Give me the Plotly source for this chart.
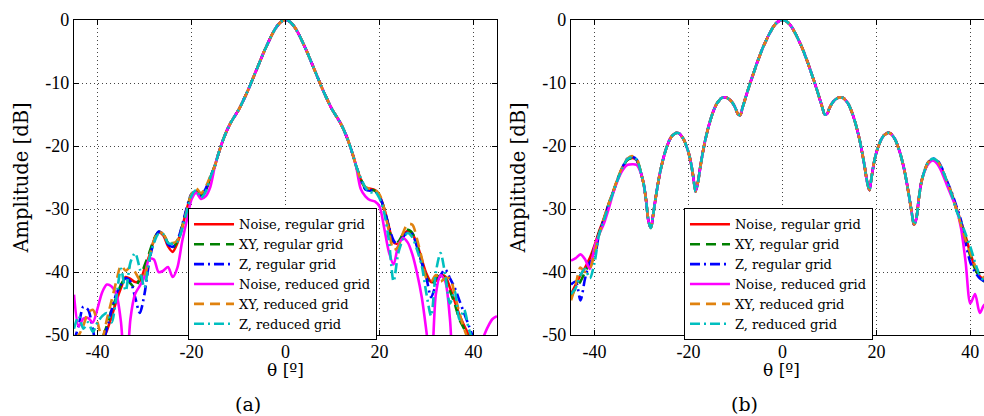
import numpy as np
import plotly.graph_objects as go

# ---------------- angle grids (degrees) ----------------
xa_left = list(range(-45, -15))            # -45 .. -16, 1 deg
xa_core = [i * 0.5 for i in range(-30, 31)]  # -15 .. 15, 0.5 deg
xa_right = list(range(16, 46))             # 16 .. 45
xb_left = list(range(-45, -30))            # -45 .. -31
xb_core = [i * 0.5 for i in range(-60, 61)]  # -30 .. 30
xb_right = list(range(31, 46))             # 31 .. 45

series_names = ["Noise, regular grid", "XY, regular grid", "Z, regular grid",
                "Noise, reduced grid", "XY, reduced grid", "Z, reduced grid"]

# ---------------- panel (a) ----------------
core_a = [-23.1, -21.8, -20.6, -19.5, -18.5, -17.6, -16.8, -16.1, -15.5, -14.9,
          -14.3, -13.6, -12.8, -12.0, -11.2, -10.3, -9.4, -8.5, -7.6, -6.7,
          -5.8, -4.9, -4.1, -3.3, -2.5, -1.8, -1.2, -0.7, -0.3, -0.08,
          0.0,
          -0.08, -0.3, -0.7, -1.2, -1.8, -2.5, -3.3, -4.1, -4.9, -5.8,
          -6.7, -7.6, -8.5, -9.4, -10.3, -11.2, -12.0, -12.8, -13.6, -14.3,
          -14.9, -15.5, -16.1, -16.8, -17.6, -18.5, -19.5, -20.6, -21.8, -23.1]

a_left = {
    "Noise, regular grid": [-53, -54, -53, -54, -53, -52.5, -51.0, -49.3, -47.1, -44.6,
                            -42.5, -40.8, -41.1, -41.6, -41.4, -39.5, -37.5, -35.0, -33.7, -34.2,
                            -35.9, -36.8, -35.4, -33.0, -30.0, -27.8, -27.2, -27.8, -27.0, -25.0],
    "XY, regular grid": [-54, -53, -52, -53, -52, -51.5, -50.5, -48.5, -46.0, -44.0,
                         -42.0, -41.0, -41.8, -42.5, -41.0, -39.0, -37.0, -34.8, -33.6, -34.0,
                         -35.4, -36.2, -35.0, -32.8, -30.0, -27.7, -27.0, -28.0, -27.1, -25.0],
    "Z, regular grid": [-51.0, -48.5, -45.5, -46.0, -49.0, -52.5, -51.5, -49.0, -46.0, -43.5,
                        -42.0, -41.0, -41.5, -44.0, -46.5, -43.5, -38.4, -35.2, -33.6, -34.0,
                        -35.6, -36.0, -35.0, -32.6, -29.8, -27.6, -27.3, -27.9, -26.8, -25.0],
    "Noise, reduced grid": [-43.6, -48.6, -47.4, -47.3, -48.0, -45.8, -43.2, -42.0, -42.3, -43.5,
                            -48.0, -58.0, -47.5, -43.5, -42.2, -40.8, -37.9, -38.0, -40.0, -39.8,
                            -39.2, -40.8, -39.3, -35.2, -31.8, -28.5, -27.4, -28.4, -28.0, -26.5],
    "XY, reduced grid": [-50.5, -50.0, -48.5, -46.5, -46.0, -48.0, -50.5, -47.5, -44.5, -41.5,
                         -39.0, -39.8, -39.2, -40.0, -41.2, -40.5, -37.8, -35.0, -33.6, -34.0,
                         -35.2, -35.4, -35.0, -33.0, -30.2, -27.6, -26.7, -27.5, -26.5, -24.8],
    "Z, reduced grid": [-49.0, -47.0, -49.0, -48.0, -49.5, -48.0, -47.0, -46.5, -48.0, -44.0,
                        -39.5, -43.0, -38.5, -37.0, -39.5, -42.5, -38.0, -35.4, -33.9, -34.0,
                        -35.4, -35.5, -35.2, -33.2, -30.4, -27.9, -27.0, -28.2, -27.3, -25.0],
}
a_right = {
    "Noise, regular grid": [-25.3, -26.6, -26.8, -27.0, -27.9, -29.9, -32.8, -35.3, -35.5, -34.2,
                            -33.5, -34.0, -35.6, -38.0, -40.3, -41.6, -41.4, -40.6, -40.7, -42.5,
                            -44.6, -46.8, -48.5, -50.0, -51.5, -52.5, -53, -53.5, -54, -54],
    "XY, regular grid": [-25.2, -26.7, -26.9, -27.1, -28.0, -30.0, -33.0, -35.5, -35.2, -34.0,
                         -33.3, -33.8, -35.8, -38.5, -40.8, -42.0, -41.0, -40.2, -41.2, -43.0,
                         -45.0, -47.5, -49.0, -50.5, -52, -53, -53, -54, -54, -54],
    "Z, regular grid": [-25.4, -26.9, -27.1, -27.0, -28.0, -30.0, -32.8, -35.0, -35.8, -34.5,
                        -33.7, -34.0, -36.0, -38.5, -41.0, -44.0, -42.0, -40.5, -39.6, -41.0,
                        -42.5, -44.5, -46.5, -48.5, -50.5, -52, -53, -53, -54, -54],
    "Noise, reduced grid": [-26.8, -28.0, -28.6, -28.8, -29.6, -33.0, -36.8, -38.8, -35.8, -34.6,
                            -35.3, -37.2, -40.2, -44.0, -49.5, -56.0, -43.5, -40.5, -41.5, -47.5,
                            -57, -58, -58, -56, -54, -52, -50.5, -48.8, -47.5, -47.0],
    "XY, reduced grid": [-25.3, -26.5, -26.8, -26.9, -27.7, -30.0, -33.5, -36.5, -36.0, -33.8,
                         -32.4, -32.5, -34.8, -37.8, -41.0, -41.5, -40.5, -41.5, -41.0, -41.0,
                         -43.5, -46.5, -49.0, -51.0, -53, -53, -54, -54, -54, -54],
    "Z, reduced grid": [-25.0, -26.6, -27.4, -27.2, -28.3, -30.6, -35.0, -41.5, -37.0, -34.8,
                        -33.8, -34.5, -36.5, -39.0, -43.5, -47.0, -40.0, -37.0, -40.5, -45.0,
                        -43.0, -47.5, -46.0, -49.0, -51.0, -52, -53, -53, -54, -54],
}

# ---------------- panel (b) ----------------
core_b = [-24.6, -26.2, -28.8, -32.0, -33.0, -30.8, -28.3, -26.0, -24.0, -22.4,
          -21.0, -19.9, -19.0, -18.4, -18.1, -17.9, -18.0, -18.4, -19.0, -19.9,
          -21.0, -22.6, -24.8, -27.2, -25.8, -23.4, -21.2, -19.3, -17.7, -16.3,
          -15.1, -14.1, -13.3, -12.8, -12.4, -12.3, -12.3, -12.5, -12.8, -13.3,
          -14.0, -14.9, -15.1, -13.9, -12.7, -11.5, -10.3, -9.2, -8.1, -7.0,
          -6.0, -5.0, -4.1, -3.3, -2.5, -1.8, -1.15, -0.65, -0.3, -0.07,
          0.0,
          -0.07, -0.3, -0.65, -1.15, -1.8, -2.5, -3.3, -4.1, -5.0, -6.0,
          -7.0, -8.1, -9.2, -10.3, -11.5, -12.7, -13.9, -15.0, -14.9, -14.0,
          -13.3, -12.8, -12.5, -12.3, -12.3, -12.4, -12.8, -13.3, -14.1, -15.1,
          -16.3, -17.7, -19.3, -21.2, -23.3, -25.6, -27.0, -24.8, -22.6, -21.0,
          -19.9, -19.0, -18.4, -18.1, -17.9, -18.0, -18.4, -19.0, -19.9, -21.0,
          -22.4, -24.0, -26.0, -28.2, -30.5, -32.5, -31.5, -28.5, -26.0, -24.5]

b_left = {
    "Noise, regular grid": [-43.5, -42.0, -40.5, -39.3, -37.8, -35.8, -33.5, -31.5, -29.2, -27.2,
                            -25.1, -23.4, -22.2, -21.9, -22.3],
    "XY, regular grid": [-44.0, -42.5, -41.5, -40.0, -38.5, -36.0, -33.7, -31.6, -29.3, -27.2,
                         -25.1, -23.4, -22.2, -21.9, -22.3],
    "Z, regular grid": [-42.0, -41.5, -44.5, -41.0, -38.5, -37.6, -33.8, -31.8, -29.4, -27.3,
                        -25.1, -23.3, -22.0, -21.7, -22.2],
    "Noise, reduced grid": [-38.2, -37.8, -37.2, -38.0, -39.5, -36.0, -34.0, -32.3, -30.0, -27.4,
                            -25.3, -23.8, -23.0, -22.9, -23.0],
    "XY, reduced grid": [-44.5, -42.0, -39.3, -40.0, -39.5, -37.0, -34.0, -31.5, -29.2, -27.1,
                         -25.0, -23.2, -22.0, -21.6, -22.1],
    "Z, reduced grid": [-43.5, -42.5, -40.5, -39.5, -41.0, -38.5, -34.0, -31.8, -29.4, -27.3,
                        -25.2, -23.4, -22.1, -21.8, -22.2],
}
b_right = {
    "Noise, regular grid": [-22.7, -22.1, -22.5, -23.8, -25.7, -27.5, -29.8, -32.0, -34.4, -37.0,
                            -39.3, -40.7, -41.3, -42.0, -42.5],
    "XY, regular grid": [-22.7, -22.1, -22.5, -23.8, -25.7, -27.6, -30.0, -32.3, -34.8, -37.5,
                         -39.5, -40.8, -41.5, -42.2, -42.8],
    "Z, regular grid": [-22.6, -22.0, -22.3, -23.6, -25.5, -27.3, -29.5, -31.8, -35.5, -38.5,
                        -40.0, -41.0, -41.5, -42.0, -42.5],
    "Noise, reduced grid": [-22.9, -22.3, -22.9, -24.3, -26.2, -28.0, -29.9, -33.0, -38.5, -45.0,
                            -43.5, -46.5, -45.2, -46.0, -46.0],
    "XY, reduced grid": [-22.6, -22.0, -22.4, -23.7, -25.6, -27.6, -30.0, -32.5, -35.0, -37.0,
                         -39.0, -40.3, -41.0, -41.8, -42.5],
    "Z, reduced grid": [-22.6, -22.0, -22.4, -23.7, -25.6, -27.7, -30.2, -32.0, -34.0, -36.0,
                        -38.5, -40.5, -41.5, -42.0, -42.8],
}

x_ticks = [-40, -20, 0, 20, 40]
x_tick_text = ["-40", "-20", "0", "20", "40"]
y_ticks = [0, -10, -20, -30, -40, -50]
y_tick_text = ["0", "-10", "-20", "-30", "-40", "-50"]

colors = ["#FF0000", "#008000", "#0000FF", "#FF00FF", "#E0820F", "#00BFBF"]
dashes = ["solid", "10px,6px", "10px,4px,2px,4px", "solid", "10px,6px", "10px,4px,2px,4px"]

xa = xa_left + xa_core + xa_right
xb = xb_left + xb_core + xb_right
assert len(core_a) == len(xa_core) and len(core_b) == len(xb_core)

TICKFONT = "Liberation Serif"
TEXTFONT = "DejaVu Serif"
fig = go.Figure()
for i, name in enumerate(series_names):
    ya = a_left[name] + core_a + a_right[name]
    yb = b_left[name] + core_b + b_right[name]
    assert len(ya) == len(xa) and len(yb) == len(xb)
    line = dict(color=colors[i], width=2.6, dash=dashes[i], shape="spline", smoothing=0.8)
    fig.add_trace(go.Scatter(x=xa, y=ya, name=name, mode="lines", line=line,
                             xaxis="x", yaxis="y", legend="legend"))
    fig.add_trace(go.Scatter(x=xb, y=yb, name=name, mode="lines", line=line,
                             xaxis="x2", yaxis="y2", legend="legend2"))

axis_common = dict(showgrid=True, gridcolor="#444444", griddash="1px,3px", gridwidth=1,
                   showline=True, linecolor="black", linewidth=1.3, mirror="ticks",
                   ticks="inside", ticklen=5, tickcolor="black", zeroline=False,
                   automargin=False,
                   tickfont=dict(family=TICKFONT, size=18, color="black"))

ytitle = dict(text="Amplitude [dB]", font=dict(family=TEXTFONT, size=19.5), standoff=11)
legend_common = dict(xanchor="left", yanchor="top", bgcolor="white",
                     bordercolor="black", borderwidth=1, itemwidth=40,
                     font=dict(family=TEXTFONT, size=13, color="black"), tracegroupgap=0)

dom_a = [0.0, 0.4648]
dom_b = [0.5462, 1.0]
fig.update_layout(
    width=984, height=416,
    margin=dict(l=74, r=0, t=20, b=81),
    paper_bgcolor="white", plot_bgcolor="white",
    font=dict(family=TEXTFONT, color="black"),
    xaxis=dict(domain=dom_a, range=[-45, 45], tickvals=x_ticks, ticktext=x_tick_text,
               anchor="y", **axis_common),
    yaxis=dict(domain=[0, 1], range=[-50, 0], tickvals=y_ticks, ticktext=y_tick_text,
               title=ytitle, anchor="x", **axis_common),
    xaxis2=dict(domain=dom_b, range=[-45, 42.9], tickvals=x_ticks, ticktext=x_tick_text,
                anchor="y2", **axis_common),
    yaxis2=dict(domain=[0, 1], range=[-50, 0], tickvals=y_ticks, ticktext=y_tick_text,
                title=ytitle, anchor="x2", **axis_common),
    legend=dict(x=0.1253, y=0.402, **legend_common),
    legend2=dict(x=0.6703, y=0.402, **legend_common),
    showlegend=True,
    annotations=[
        dict(text="θ [º]", x=0.2326, y=-0.11, xref="paper", yref="paper",
             xanchor="center", yanchor="middle", showarrow=False,
             font=dict(family=TEXTFONT, size=17)),
        dict(text="θ [º]", x=0.7779, y=-0.11, xref="paper", yref="paper",
             xanchor="center", yanchor="middle", showarrow=False,
             font=dict(family=TEXTFONT, size=17)),
        dict(text="(a)", x=0.191, y=-0.219, xref="paper", yref="paper",
             xanchor="center", yanchor="middle", showarrow=False,
             font=dict(family=TEXTFONT, size=19)),
        dict(text="(b)", x=0.737, y=-0.219, xref="paper", yref="paper",
             xanchor="center", yanchor="middle", showarrow=False,
             font=dict(family=TEXTFONT, size=19)),
    ],
)

fig.write_html("out.html", config={"displayModeBar": False},
               post_script="document.body.style.margin='0';")
